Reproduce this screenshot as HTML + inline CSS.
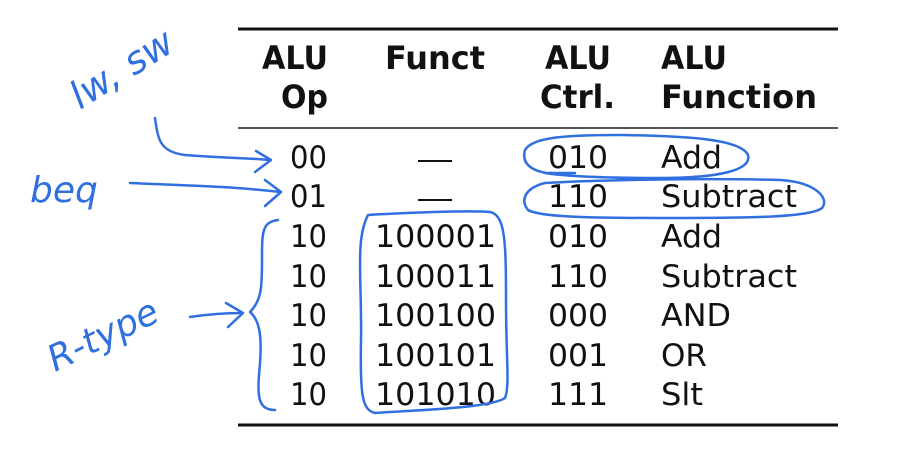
<!DOCTYPE html>
<html><head><meta charset="utf-8"><style>
html,body{margin:0;padding:0;background:#fff;width:917px;height:451px;overflow:hidden}
svg{display:block}
.h{font-family:"DejaVu Sans","Liberation Sans",sans-serif;font-weight:bold;font-size:32px;fill:#111}
.d{font-family:"DejaVu Sans","Liberation Sans",sans-serif;font-size:31px;fill:#111}
.b{fill:none;stroke:#2f6fe0;stroke-width:2.5;stroke-linecap:round;stroke-linejoin:round}
.hw{font-family:"DejaVu Sans",sans-serif;font-style:italic;fill:#2f6fe0}
</style></head><body>
<svg width="917" height="451" viewBox="0 0 917 451" xmlns="http://www.w3.org/2000/svg">
<rect x="238" y="27.5" width="600" height="3" fill="#111"/>
<rect x="238" y="127" width="600" height="2" fill="#555"/>
<rect x="238" y="423.5" width="600" height="3" fill="#111"/>

<text class="h" x="262" y="69" textLength="66" lengthAdjust="spacingAndGlyphs">ALU</text>
<text class="h" x="281" y="108" textLength="47" lengthAdjust="spacingAndGlyphs">Op</text>
<text class="h" x="385" y="69" textLength="100" lengthAdjust="spacingAndGlyphs">Funct</text>
<text class="h" x="545" y="69" textLength="66" lengthAdjust="spacingAndGlyphs">ALU</text>
<text class="h" x="540" y="108" textLength="75" lengthAdjust="spacingAndGlyphs">Ctrl.</text>
<text class="h" x="661" y="69" textLength="66" lengthAdjust="spacingAndGlyphs">ALU</text>
<text class="h" x="661" y="108" textLength="156" lengthAdjust="spacingAndGlyphs">Function</text>

<g class="d">
<text x="290" y="168" textLength="37" lengthAdjust="spacingAndGlyphs">00</text>
<text x="290" y="207" textLength="37" lengthAdjust="spacingAndGlyphs">01</text>
<text x="290" y="247" textLength="37" lengthAdjust="spacingAndGlyphs">10</text>
<text x="290" y="287" textLength="37" lengthAdjust="spacingAndGlyphs">10</text>
<text x="290" y="326" textLength="37" lengthAdjust="spacingAndGlyphs">10</text>
<text x="290" y="366" textLength="37" lengthAdjust="spacingAndGlyphs">10</text>
<text x="290" y="405" textLength="37" lengthAdjust="spacingAndGlyphs">10</text>

<text x="375" y="247" textLength="121" lengthAdjust="spacingAndGlyphs">100001</text>
<text x="375" y="287" textLength="121" lengthAdjust="spacingAndGlyphs">100011</text>
<text x="375" y="326" textLength="121" lengthAdjust="spacingAndGlyphs">100100</text>
<text x="375" y="366" textLength="121" lengthAdjust="spacingAndGlyphs">100101</text>
<text x="375" y="405" textLength="121" lengthAdjust="spacingAndGlyphs">101010</text>

<text x="548" y="168" textLength="60" lengthAdjust="spacingAndGlyphs">010</text>
<text x="548" y="207" textLength="60" lengthAdjust="spacingAndGlyphs">110</text>
<text x="548" y="247" textLength="60" lengthAdjust="spacingAndGlyphs">010</text>
<text x="548" y="287" textLength="60" lengthAdjust="spacingAndGlyphs">110</text>
<text x="548" y="326" textLength="60" lengthAdjust="spacingAndGlyphs">000</text>
<text x="548" y="366" textLength="60" lengthAdjust="spacingAndGlyphs">001</text>
<text x="548" y="405" textLength="60" lengthAdjust="spacingAndGlyphs">111</text>

<text x="661" y="168" textLength="61" lengthAdjust="spacingAndGlyphs">Add</text>
<text x="661" y="207" textLength="136" lengthAdjust="spacingAndGlyphs">Subtract</text>
<text x="661" y="247" textLength="61" lengthAdjust="spacingAndGlyphs">Add</text>
<text x="661" y="287" textLength="136" lengthAdjust="spacingAndGlyphs">Subtract</text>
<text x="661" y="326" textLength="70" lengthAdjust="spacingAndGlyphs">AND</text>
<text x="661" y="366" textLength="46" lengthAdjust="spacingAndGlyphs">OR</text>
<text x="661" y="405" textLength="42" lengthAdjust="spacingAndGlyphs">Slt</text>
</g>

<rect x="418" y="160" width="34" height="2" fill="#111"/>
<rect x="418" y="199" width="34" height="2" fill="#111"/>

<g class="b">
<path d="M155 118 C158 140 160 152 185 155 C220 158 250 158 270 160"/>
<path d="M256 151 L271 160 L255 172"/>
<path d="M130 183 C170 185 230 186 280 192"/>
<path d="M265 180 L281 192 L265 206"/>
<path d="M190 317 C210 314 225 313 242 313"/>
<path d="M226 303 L243 313 L228 327"/>
<path d="M278 220 C262 222 262 232 262 260 C262 285 262 300 250 312 C262 322 262 345 259 375 C257 400 260 410 275 410"/>
<path d="M368 215 C400 213 470 210 490 212 C505 215 506 240 506 300 C506 360 510 385 505 398 C490 408 420 410 375 413 C362 410 360 395 361 340 C362 280 355 240 368 215 Z"/>
<path d="M560 174 C540 174 520 168 525 150 C532 138 560 135 620 135 C680 136 740 138 748 155 C752 170 720 178 660 178 C610 178 570 177 545 173 L575 173"/>
<path d="M545 183 C600 180 700 178 780 180 C815 182 830 198 822 208 C810 218 740 218 660 218 C590 218 540 217 528 210 C520 200 525 188 545 183 Z"/>
</g>
<text class="hw" x="80" y="110" font-size="38" transform="rotate(-32 80 110)">lw, sw</text>
<text class="hw" x="30" y="202" font-size="36">beq</text>
<text class="hw" x="55" y="372" font-size="36" transform="rotate(-26 55 372)">R-type</text>
</svg>
</body></html>
